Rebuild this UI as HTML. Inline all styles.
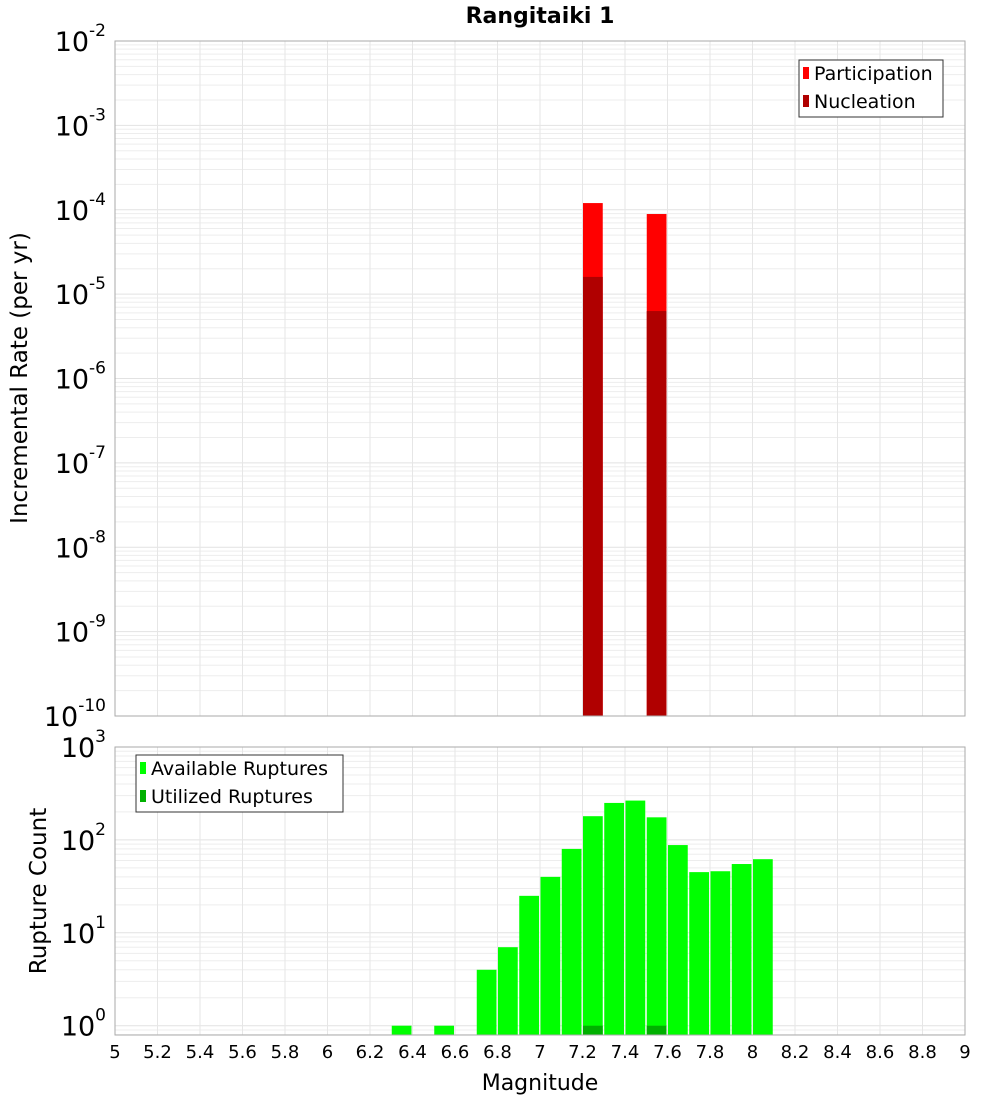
<!DOCTYPE html>
<html><head><meta charset="utf-8"><style>
body{margin:0;background:#fff;font-family:"Liberation Sans","DejaVu Sans",sans-serif}
svg text{font-family:"DejaVu Sans","Liberation Sans",sans-serif}
</style></head><body>
<svg id="c" width="1000" height="1100" xmlns="http://www.w3.org/2000/svg">
<text x="540" y="23" font-size="22" font-weight="bold" text-anchor="middle">Rangitaiki 1</text>
<g id="top"></g>
<g id="bot"></g>
<text transform="translate(27,378) rotate(-90)" font-size="23" text-anchor="middle">Incremental Rate (per yr)</text>
<text transform="translate(46,891) rotate(-90)" font-size="23" text-anchor="middle">Rupture Count</text>
<text x="540" y="1090" font-size="22" text-anchor="middle">Magnitude</text>
</svg>
<script>
const rateBins=[7.25,7.55];
const participation=[1.2e-4,8.9e-5];
const nucleation=[1.6e-5,6.3e-6];
const countBins=[6.35,6.55,6.75,6.85,6.95,7.05,7.15,7.25,7.35,7.45,7.55,7.65,7.75,7.85,7.95,8.05];
const available=[1,1,4,7,25,40,80,180,250,265,175,88,45,46,55,62];
const utilBins=[7.25,7.55];
const utilized=[1,1];
const xTicks=[5,5.2,5.4,5.6,5.8,6,6.2,6.4,6.6,6.8,7,7.2,7.4,7.6,7.8,8,8.2,8.4,8.6,8.8,9];
const topExps=[-2,-3,-4,-5,-6,-7,-8,-9,-10];
const botExps=[3,2,1,0];

const NS="http://www.w3.org/2000/svg";
const X0=115,X1=965;
const xs=m=>X0+(m-5)/4*(X1-X0);
function mk(p,t,a){const e=document.createElementNS(NS,t);for(const k in a)e.setAttribute(k,a[k]);p.appendChild(e);return e;}
function panel(g,y0,y1,lmin,lmax,name){
  const ys=v=>y1-(Math.log10(v)-lmin)/(lmax-lmin)*(y1-y0);
  for(let d=Math.floor(lmin);d<lmax;d++)for(let k=1;k<10;k++){const v=k*Math.pow(10,d);const l=Math.log10(v);if(l<lmin||l>lmax)continue;
    const ln=mk(g,'line',{x1:X0,x2:X1,y1:ys(v),y2:ys(v),stroke:k==1?'#e2e2e2':'#ededed','stroke-width':1});
    }
  xTicks.forEach(t=>{const ln=mk(g,'line',{x1:xs(t),x2:xs(t),y1:y0,y2:y1,stroke:'#e6e6e6'});
    });
  return ys;
}
function frame(g,y0,y1,name){const r=mk(g,'rect',{x:X0,y:y0,width:X1-X0,height:y1-y0,fill:'none',stroke:'#aaa'});
  }
function ylab(exp,y){const t=mk(document.getElementById('c'),'text',{x:106,y:y+10,'font-size':27,'text-anchor':'end'});
  
  t.textContent='10';const s=document.createElementNS(NS,'tspan');s.setAttribute('dy',-15);s.setAttribute('font-size',17);s.textContent=exp;t.appendChild(s);}
function bar(g,c,v,ys,yb,fill,name){const x=xs(c-0.05)+0.5,w=xs(c+0.05)-xs(c-0.05)-1.5;const y=ys(v);
  const r=mk(g,'rect',{x:x,y:y,width:w,height:yb-y,fill:fill});
  }
function legend(g,x,y,w,items,name){const b=mk(g,'rect',{x:x,y:y,width:w,height:items.length*28+1,fill:'#fff',stroke:'#333'});
  
  items.forEach((it,i)=>{const s=mk(g,'rect',{x:x+4,y:y+7+i*28,width:6,height:12,fill:it[1]});
    
    const t=mk(g,'text',{x:x+15,y:y+20+i*28,'font-size':19});t.textContent=it[0];
    });}

// top
const gt=document.getElementById('top');const T0=41,T1=716;
const yt=panel(gt,T0,T1,-10,-2,'top');
rateBins.forEach((c,i)=>bar(gt,c,participation[i],yt,T1,'#ff0000','participation-bar'));
rateBins.forEach((c,i)=>bar(gt,c,nucleation[i],yt,T1,'#b00000','nucleation-bar'));
frame(gt,T0,T1,'top');
topExps.forEach(e=>ylab(e,yt(Math.pow(10,e))));
legend(gt,799,60,144,[['Participation','#ff0000'],['Nucleation','#b00000']],'legend-top');
// bottom
const gb=document.getElementById('bot');const B0=747,B1=1035;
const yb=panel(gb,B0,B1,-0.1,3,'bottom');
countBins.forEach((c,i)=>bar(gb,c,available[i],yb,B1,'#00ff00','available-bar'));
utilBins.forEach((c,i)=>bar(gb,c,utilized[i],yb,B1,'#00b000','utilized-bar'));
frame(gb,B0,B1,'bottom');
botExps.forEach(e=>ylab(e,yb(Math.pow(10,e))));
legend(gb,136,755,207,[['Available Ruptures','#00ff00'],['Utilized Ruptures','#00b000']],'legend-bottom');
xTicks.forEach(t=>{const e=mk(document.getElementById('c'),'text',{x:xs(t),y:1058,'font-size':18,'text-anchor':'middle'});
  e.textContent=String(t);});
</script>
</body></html>
